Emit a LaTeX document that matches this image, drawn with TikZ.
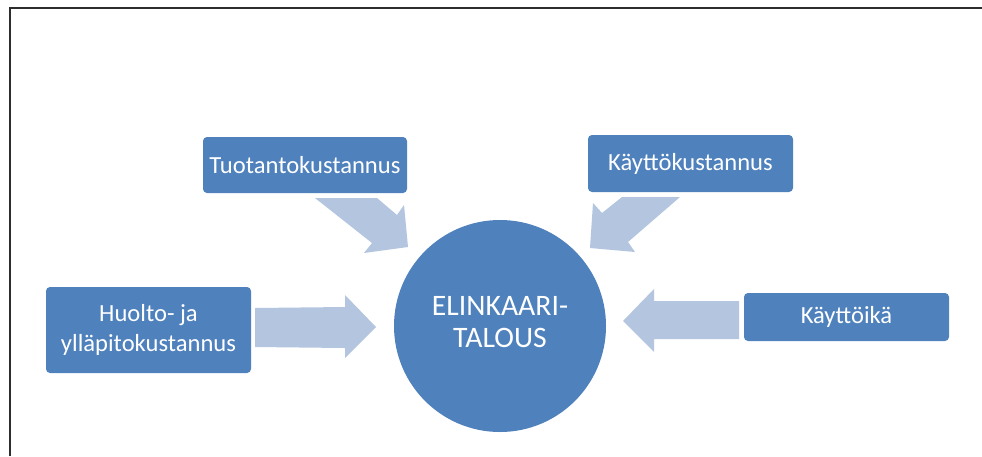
\documentclass[tikz,border=0pt]{standalone}
\usepackage{fontspec}
\setmainfont{Carlito}
\definecolor{boxblue}{RGB}{79,129,189}
\definecolor{arrowblue}{RGB}{180,197,223}
\definecolor{framegray}{RGB}{45,45,45}
\begin{document}
\begin{tikzpicture}[x=1pt,y=-1pt,
  box/.style={rectangle, rounded corners=4pt, fill=boxblue, text=white, align=center,
    inner sep=0pt, font=\fontsize{24.6}{29.5}\selectfont},
  hub/.style={circle, fill=boxblue, text=white, align=center, inner sep=0pt,
    minimum size=212pt, font=\fontsize{29.7}{31.5}\selectfont},
  blockarrow/.style={fill=arrowblue, draw=none}]
\useasboundingbox (0,0) rectangle (982,456);
\fill[white] (0,0) rectangle (982,456);
% frame
\draw[framegray, line width=2pt] (10,456) -- (10,8) -- (982,8);
% nodes
\node[hub] (hub) at (500,326) {};
\node[text=white, align=center, font=\fontsize{29.7}{31.5}\selectfont] (hubtext) at (500,322) {ELINKAARI-\\TALOUS};
\node[box, minimum width=204pt, minimum height=56pt] (tuo) at (305,165) {Tuotantokustannus};
\node[box, minimum width=205pt, minimum height=57pt] (kay) at (690.5,163.5) {Käyttökustannus};
\node[box, minimum width=205pt, minimum height=86pt] (huo) at (148.5,330) {Huolto- ja\\ylläpitokustannus};
\node[box, minimum width=205pt, minimum height=48pt] (ika) at (846.5,317) {Käyttöikä};
% block arrows
\fill[blockarrow] (315,198) -- (377,198) -- (397,215) -- (404,205) -- (408,247) -- (364,253) -- (372,243) -- cycle;
\fill[blockarrow] (622,197) -- (680,197) -- (628,242) -- (635,252) -- (590,248) -- (593,203) -- (602,213) -- cycle;
\fill[blockarrow] (255,308) -- (345,307) -- (345,295) -- (376,327) -- (345,358) -- (345,348) -- (255,347) -- cycle;
\fill[blockarrow] (739,301) -- (654,301) -- (654,289) -- (623,321) -- (654,352) -- (654,339) -- (739,339) -- cycle;
\end{tikzpicture}
\end{document}
